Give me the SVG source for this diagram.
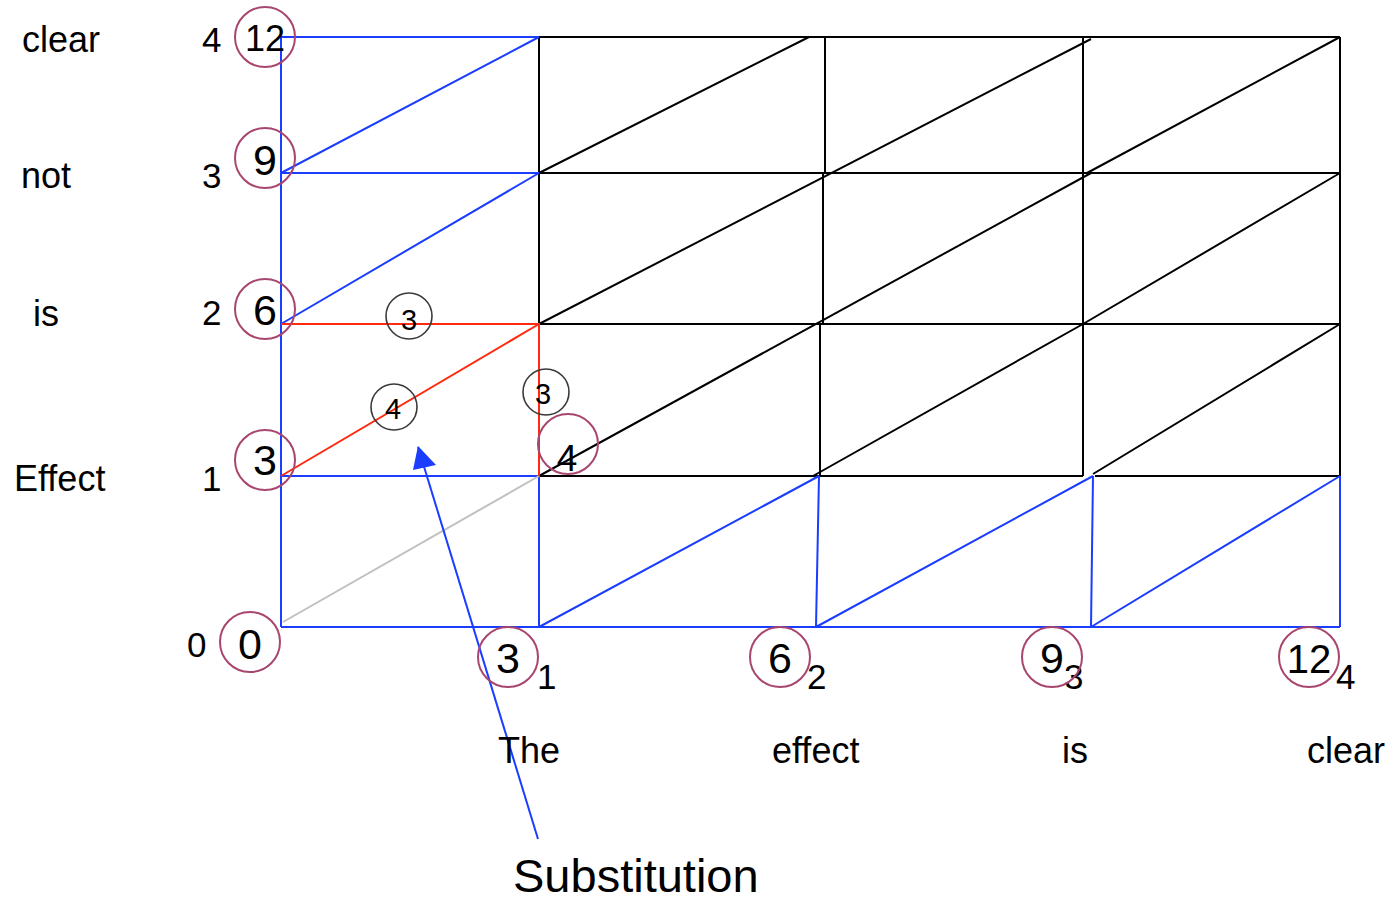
<svg xmlns="http://www.w3.org/2000/svg" width="1394" height="901" viewBox="0 0 1394 901">
<defs>
<style>
text{font-family:"Liberation Sans",Arial,sans-serif;fill:#000}
.w{font-size:36px}
.n{font-size:35px}
.c{font-size:43px;text-anchor:middle}
.s{font-size:29px;text-anchor:middle}
.bl{stroke:#1a3dff;stroke-width:2;fill:none}
.rd{stroke:#ff2a10;stroke-width:2;fill:none}
.gy{stroke:#c0c0c0;stroke-width:2;fill:none}
.bk{stroke:#000;stroke-width:2;fill:none}
.pc{fill:none;stroke:#a8466f;stroke-width:2}
.sc{fill:none;stroke:#3a3a3a;stroke-width:1.6}
</style>
</defs>
<rect width="1394" height="901" fill="#fff"/>
<g id="connectors">
<g id="black-lattice" class="bk">
<path d="M539 37H1340M539 173H1340M539 324H1340M539 476H1083M1095 476H1340"/>
<path d="M539 37V324M825 37V173M823 173V324M820 324V476M1083 37V476M1340 37V476"/>
<path d="M539 173L809 37M539 324L1091 39M1087 173L1340 37"/>
<path d="M539 476L1091 173M1083 324L1340 173"/>
<path d="M813 476L1083 324M1093 474L1340 324"/>
</g>
<g id="blue-lattice" class="bl">
<path d="M281 37V627M281 37H539M281 173H539M281 476H539M281 627H1340"/>
<path d="M539 476V627M819 476L816 627M1093 476L1091 627M1340 476V627"/>
<path d="M281 173L539 37M281 324L539 173M539 627L819 476M816 627L1093 476M1091 627L1340 476"/>
</g>
<path id="gray-diag" class="gy" d="M283 622L539 476"/>
<g id="red-path" class="rd">
<path d="M281 324H539V476M281 476L539 324"/>
</g>
<path id="substitution-arrow" d="M538 839L418 447" stroke="#1a3dff" stroke-width="2" fill="none"/>
<path d="M418 446L436 465L413 470z" fill="#1a3dff"/>
</g>
<g id="row-labels">
<text class="w" x="22" y="52">clear</text>
<text class="w" x="21" y="188">not</text>
<text class="w" x="33" y="326">is</text>
<text class="w" x="14" y="491">Effect</text>
<text class="n" x="202" y="52">4</text>
<text class="n" x="202" y="188">3</text>
<text class="n" x="202" y="325">2</text>
<text class="n" x="202" y="491">1</text>
<text class="n" x="187" y="657">0</text>
</g>
<g id="col-labels">
<text class="w" x="498" y="763">The</text>
<text class="w" x="772" y="763">effect</text>
<text class="w" x="1062" y="763">is</text>
<text class="w" x="1307" y="763">clear</text>
<text class="n" x="537" y="689">1</text>
<text class="n" x="807" y="689">2</text>
<text class="n" x="1064" y="689">3</text>
<text class="n" x="1336" y="689">4</text>
</g>
<g id="node-12-top"><circle class="pc" cx="265" cy="37" r="30"/><text class="c" x="265" y="51" style="font-size:36px">12</text></g>
<g id="node-9-left"><circle class="pc" cx="265" cy="158" r="30"/><text class="c" x="265" y="175">9</text></g>
<g id="node-6-left"><circle class="pc" cx="265" cy="309" r="30"/><text class="c" x="265" y="325">6</text></g>
<g id="node-3-left"><circle class="pc" cx="265" cy="460" r="30"/><text class="c" x="265" y="475">3</text></g>
<g id="node-0"><circle class="pc" cx="250" cy="642" r="30"/><text class="c" x="250" y="659">0</text></g>
<g id="node-4-mid"><circle class="pc" cx="568" cy="444" r="30"/><text class="c" x="567" y="471" style="font-size:37px">4</text></g>
<g id="node-3-bottom"><circle class="pc" cx="508" cy="657" r="30"/><text class="c" x="508" y="673">3</text></g>
<g id="node-6-bottom"><circle class="pc" cx="780" cy="657" r="30"/><text class="c" x="780" y="673">6</text></g>
<g id="node-9-bottom"><circle class="pc" cx="1052" cy="657" r="30"/><text class="c" x="1052" y="673">9</text></g>
<g id="node-12-bottom"><circle class="pc" cx="1309" cy="657" r="30"/><text class="c" x="1309" y="673" style="font-size:40px">12</text></g>
<g id="cost-3-top"><circle class="sc" cx="409" cy="316" r="23"/><text class="s" x="409" y="330">3</text></g>
<g id="cost-4-diag"><circle class="sc" cx="394" cy="407" r="23"/><text class="s" x="393" y="419">4</text></g>
<g id="cost-3-vert"><circle class="sc" cx="546" cy="392" r="23"/><text class="s" x="543" y="404">3</text></g>
<g id="label-substitution"><text x="513" y="892" style="font-size:47px">Substitution</text></g>
</svg>
